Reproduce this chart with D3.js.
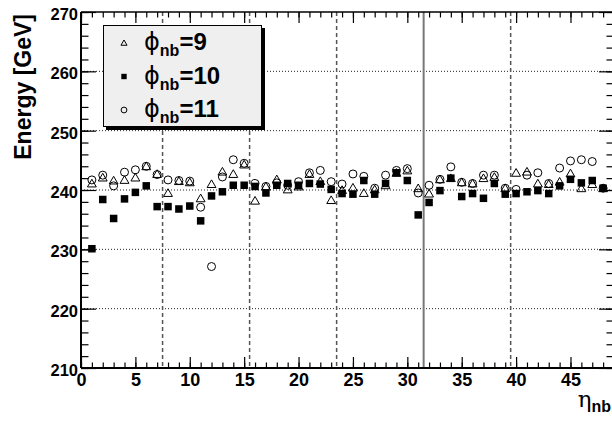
<!DOCTYPE html>
<html><head><meta charset="utf-8">
<script src="https://cdn.jsdelivr.net/npm/d3@7"></script>
<style>body{margin:0;background:#fff}svg{display:block}</style>
</head><body>
<script>
const etaBins = d3.range(1, 49);
const phi9  = [241.1,242.1,241.6,241.7,242.1,244.0,242.7,239.5,241.5,241.3,238.6,241.0,243.1,242.7,244.3,238.2,240.6,241.8,240.1,240.6,242.7,241.5,238.3,240.0,240.4,239.5,240.1,240.8,242.9,243.3,240.3,239.4,241.8,242.0,241.3,241.1,242.0,242.2,240.3,242.9,243.1,241.1,241.0,241.4,242.8,240.3,241.0,240.3];
const phi10 = [230.1,238.4,235.2,238.5,239.6,240.7,237.2,237.2,236.8,237.3,234.8,239.0,239.7,240.8,240.8,240.6,239.5,240.8,241.1,240.8,241.1,241.0,240.1,239.4,239.3,241.6,239.3,241.1,242.9,241.6,235.8,237.9,239.9,242.0,238.9,239.4,238.6,241.1,239.3,239.4,239.7,239.9,239.4,240.7,241.8,241.2,241.6,240.3];
const phi11 = [241.7,242.5,240.7,243.0,243.4,244.0,242.6,241.7,241.6,241.5,237.1,227.1,242.2,245.1,244.5,241.1,240.6,241.2,240.8,241.4,242.9,243.3,241.4,241.0,242.7,242.3,240.3,242.5,243.3,243.6,239.5,240.8,241.8,243.9,241.3,241.1,242.5,242.5,240.3,240.1,242.5,242.9,241.1,243.7,244.9,245.1,244.8,240.3];
const xMajorTicks = [0,5,10,15,20,25,30,35,40,45];
const yMajorTicks = [210,220,230,240,250,260,270];
const dashedLines = [7.5,15.5,23.5,39.5];
const solidLines = [31.5];
const legendLabels = ["=9","=10","=11"];

const W=612,H=421;
const L=81,R=614,T=12,B=368;
const svg=d3.select("body").append("svg").attr("width",W).attr("height",H);
const x=d3.scaleLinear().domain([0,49]).range([L,R]);
const y=d3.scaleLinear().domain([210,270]).range([B,T]);
const FONT="'Liberation Sans',Arial,Helvetica,sans-serif";

// horizontal dotted grid
svg.append("g").selectAll("line").data(yMajorTicks.filter(v=>v>210&&v<270)).join("line")
  .attr("x1",L).attr("x2",R).attr("y1",d=>y(d)).attr("y2",d=>y(d))
  .attr("stroke","#222").attr("stroke-width",1).attr("stroke-dasharray","1,2");
// vertical dashed lines
svg.append("g").selectAll("line").data(dashedLines).join("line")
  .attr("x1",d=>x(d)).attr("x2",d=>x(d)).attr("y1",T).attr("y2",B)
  .attr("stroke","#555").attr("stroke-width",1.5).attr("stroke-dasharray","4,3");
svg.append("g").selectAll("line").data(solidLines).join("line")
  .attr("x1",d=>x(d)).attr("x2",d=>x(d)).attr("y1",T).attr("y2",B)
  .attr("stroke","#777").attr("stroke-width",2);

// axes
function styleAxis(g){g.selectAll(".domain").remove();g.selectAll(".tick line").attr("stroke","#000").attr("stroke-width",1.2);}
svg.append("g").attr("transform",`translate(0,${B})`)
  .call(d3.axisBottom(x).tickValues(d3.range(0,49)).tickSize(-5.5).tickFormat("")).call(styleAxis);
const xb=svg.append("g").attr("transform",`translate(0,${B})`)
  .call(d3.axisBottom(x).tickValues(xMajorTicks).tickSize(-11).tickPadding(5)).call(styleAxis);
xb.selectAll("text").attr("font-family",FONT).attr("font-weight","bold").attr("font-size",18).attr("fill","#000");
svg.append("g").attr("transform",`translate(0,${T})`)
  .call(d3.axisTop(x).tickValues(d3.range(0,49)).tickSize(-5.5).tickFormat("")).call(styleAxis);
svg.append("g").attr("transform",`translate(0,${T})`)
  .call(d3.axisTop(x).tickValues(xMajorTicks).tickSize(-11).tickFormat("")).call(styleAxis);
svg.append("g").attr("transform",`translate(${L},0)`)
  .call(d3.axisLeft(y).tickValues(d3.range(210,271,2)).tickSize(-7.5).tickFormat("")).call(styleAxis);
const yl=svg.append("g").attr("transform",`translate(${L},0)`)
  .call(d3.axisLeft(y).tickValues(yMajorTicks).tickSize(-15).tickPadding(3)).call(styleAxis);
yl.selectAll("text").attr("font-family",FONT).attr("font-weight","bold").attr("font-size",16.5).attr("fill","#000").attr("dy","0.45em");
svg.append("g").attr("transform",`translate(${R},0)`)
  .call(d3.axisRight(y).tickValues(d3.range(210,271,2)).tickSize(-7.5).tickFormat("")).call(styleAxis);
svg.append("g").attr("transform",`translate(${R},0)`)
  .call(d3.axisRight(y).tickValues(yMajorTicks).tickSize(-15).tickFormat("")).call(styleAxis);

// frame
svg.append("line").attr("x1",L).attr("x2",R).attr("y1",B).attr("y2",B).attr("stroke","#000").attr("stroke-width",2);
svg.append("line").attr("x1",L).attr("x2",L).attr("y1",T).attr("y2",B).attr("stroke","#000").attr("stroke-width",2);
svg.append("line").attr("x1",L).attr("x2",R).attr("y1",T).attr("y2",T).attr("stroke","#000").attr("stroke-width",1.5);
svg.append("line").attr("x1",R).attr("x2",R).attr("y1",T).attr("y2",B).attr("stroke","#000").attr("stroke-width",1.5);

// markers
const tri=d3.symbol().type(d3.symbolTriangle).size(34);
const plot=svg.append("g");
plot.selectAll("path.t").data(etaBins).join("path").attr("class","t")
  .attr("d",tri).attr("transform",(d,i)=>`translate(${x(d)},${y(phi9[i])+0.9})`)
  .attr("fill","none").attr("stroke","#000").attr("stroke-width",1);
plot.selectAll("rect.s").data(etaBins).join("rect").attr("class","s")
  .attr("x",d=>x(d)-3.75).attr("y",(d,i)=>y(phi10[i])-3.75).attr("width",7.5).attr("height",7.5).attr("fill","#000");
plot.selectAll("circle.c").data(etaBins).join("circle").attr("class","c")
  .attr("cx",d=>x(d)).attr("cy",(d,i)=>y(phi11[i])).attr("r",4)
  .attr("fill","none").attr("stroke","#000").attr("stroke-width",1);

// legend
const lg=svg.append("g");
lg.append("rect").attr("x",106).attr("y",28).attr("width",159).attr("height",102).attr("fill","#000");
lg.append("rect").attr("x",103.5).attr("y",25.5).attr("width",158).attr("height",101).attr("fill","#efefef").attr("stroke","#000").attr("stroke-width",1);
const ly=[43,76.5,110];
lg.append("path").attr("d",d3.symbol().type(d3.symbolTriangle).size(16)).attr("transform",`translate(124,${ly[0]+0.5})`).attr("fill","none").attr("stroke","#000");
lg.append("rect").attr("x",121.3).attr("y",ly[1]-2.7).attr("width",5.4).attr("height",5.4).attr("fill","#000");
lg.append("circle").attr("cx",124).attr("cy",ly[2]).attr("r",2.9).attr("fill","none").attr("stroke","#000");
legendLabels.forEach((lab,i)=>{
  const t=lg.append("text").attr("x",144).attr("y",ly[i]+7).attr("font-family",FONT).attr("fill","#000");
  t.append("tspan").attr("font-family","'DejaVu Sans',sans-serif").attr("font-size",24).text("\u03D5");
  t.append("tspan").attr("font-weight","bold").attr("font-size",16).attr("dy",6).text("nb");
  t.append("tspan").attr("font-weight","bold").attr("font-size",24).attr("dy",-6).text(lab);
});

// axis titles
svg.append("text").attr("transform","translate(31,14) rotate(-90)").attr("text-anchor","end")
  .attr("font-family",FONT).attr("font-weight","bold").attr("font-size",23).attr("fill","#000").text("Energy [GeV]");
const xt=svg.append("text").attr("x",611).attr("y",407).attr("text-anchor","end").attr("font-family",FONT).attr("fill","#000");
xt.append("tspan").attr("font-family","'DejaVu Serif',serif").attr("font-size",23).text("\u03B7");
xt.append("tspan").attr("font-weight","bold").attr("font-size",16).attr("dy",5).text("nb");
</script>
</body></html>
